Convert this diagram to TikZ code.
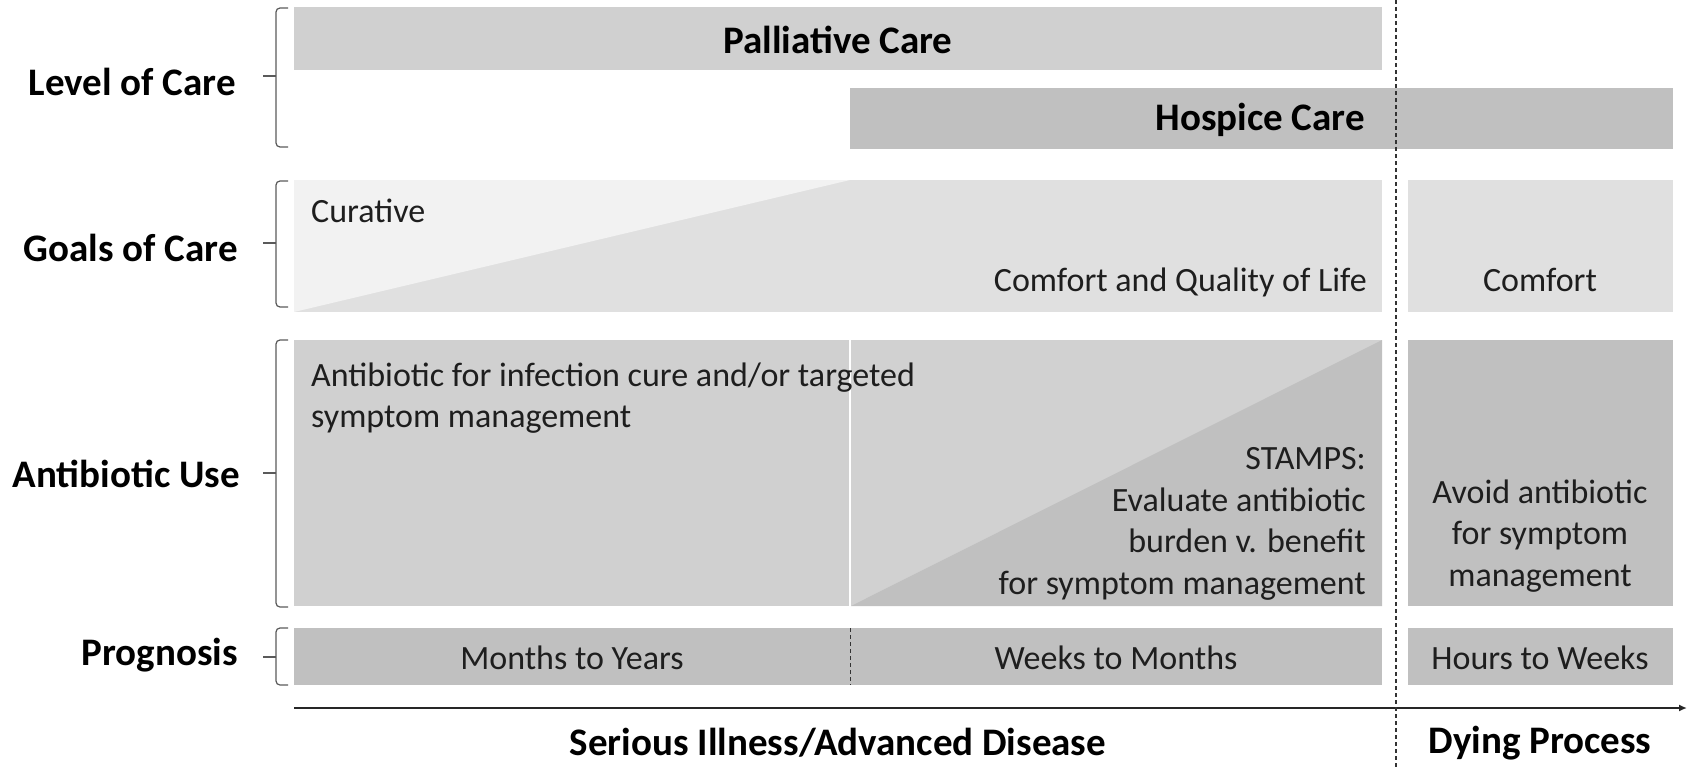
\documentclass[tikz,border=0pt]{standalone}
\usepackage{fontspec}
\setmainfont{Carlito}
\usetikzlibrary{arrows.meta, positioning}
\definecolor{carelight}{RGB}{208,208,208}
\definecolor{caredark}{RGB}{192,192,192}
\definecolor{goalgray}{RGB}{224,224,224}
\definecolor{curegray}{RGB}{242,242,242}
\definecolor{bracegray}{RGB}{90,90,90}
\definecolor{textgray}{RGB}{30,30,30}

\begin{document}
\begin{tikzpicture}[x=1pt, y=-1pt,
    every node/.style={font=\fontsize{34}{41.5}\selectfont, inner sep=0pt, text=textgray},
    rowlabel/.style={font=\fontsize{39}{46}\selectfont\bfseries, anchor=east, text=black},
    boldlabel/.style={font=\fontsize{39}{46}\selectfont\bfseries, text=black},
    bracket/.style={draw=bracegray, line width=1.2pt, rounded corners=4pt},
    phaseline/.style={draw=black!80, line width=1.2pt, dash pattern=on 4pt off 3pt}]

        \useasboundingbox (0,0) rectangle (1688,768);

        % Phasengrenze
        \coordinate (phasetop) at (1396,0);
        \coordinate (phasebot) at (1396,768);

        % --- LEVEL OF CARE ---
        \fill[carelight] (294,7) rectangle (1382,70);
        \fill[caredark] (850,88) rectangle (1673,149);
        \node[boldlabel] (palliative) at (838,40) {Palliative Care};
        \node[boldlabel, anchor=east] (hospice) at (1365,120) {Hospice Care};

        % --- GOALS OF CARE ---
        \fill[goalgray] (294,180) rectangle (1382,312);
        \fill[curegray] (294,180) -- (850,180) -- (294,312) -- cycle;
        \fill[goalgray] (1408,180) rectangle (1673,312);
        \node[anchor=west] (curative) at (311,211) {Curative};
        \node[anchor=east] (quality) at (1367,282) {Comfort and Quality of Life};
        \node (comfort) at (1540,280) {Comfort};

        % --- ANTIBIOTIC USE ---
        \fill[carelight] (294,340) rectangle (849,606);
        \fill[carelight!98!white] (851,340) rectangle (1382,606);
        \fill[caredark] (851,606) -- (1382,340) -- (1382,606) -- cycle;
        \fill[caredark] (1408,340) rectangle (1673,606);
        \node[anchor=west, align=left] (cure) at (311,398) {Antibiotic for infection cure and/or targeted\\symptom management};
        \node[anchor=east, align=right] (stamps) at (1366,524) {STAMPS:\\Evaluate antibiotic\\burden v. benefit\\for symptom management};
        \node[align=center] (avoid) at (1540,536) {Avoid antibiotic\\for symptom\\management};

        % --- PROGNOSIS ---
        \fill[caredark] (294,628) rectangle (1382,685);
        \fill[caredark] (1408,628) rectangle (1673,685);
        \coordinate (splittop) at (850,628);
        \coordinate (splitbot) at (850,685);
        \draw[phaseline, line width=0.9pt] (splittop) -- (splitbot);
        \node (months) at (572,658) {Months to Years};
        \node (weeks) at (1116,658) {Weeks to Months};
        \node (hours) at (1540,658) {Hours to Weeks};

        % Zeitachse
        \coordinate (axisstart) at (294,708);
        \coordinate (axisend) at (1687,708);
        \draw[line width=1.8pt, black!85, -{Latex[length=8pt, width=7pt]}] (axisstart) -- (axisend);
        \draw[phaseline] (phasetop) -- (phasebot);
        \node[boldlabel] (serious) at (838,743) {Serious Illness/Advanced Disease};
        \node[boldlabel] (dying) at (1540,743) {Dying Process};

        % --- ZEILEN ---
        \node[rowlabel] (level) at (236,82) {Level of Care};
        \node[rowlabel] (goals) at (238,248) {Goals of Care};
        \node[rowlabel] (use) at (240,474) {Antibiotic Use};
        \node[rowlabel] (prognosis) at (238,655) {Prognosis};

        % Klammern
        \draw[bracket] (288,8) -- (276,8) -- (276,147) -- (288,147);
        \draw[bracket] (288,181) -- (276,181) -- (276,307) -- (288,307);
        \draw[bracket] (288,340) -- (276,340) -- (276,607) -- (288,607);
        \draw[bracket] (288,628) -- (276,628) -- (276,685) -- (288,685);
        \foreach \m in {76,243,473,657}
            \draw[draw=bracegray, line width=1.2pt] (276,\m) -- (263,\m);

    \end{tikzpicture}
\end{document}
